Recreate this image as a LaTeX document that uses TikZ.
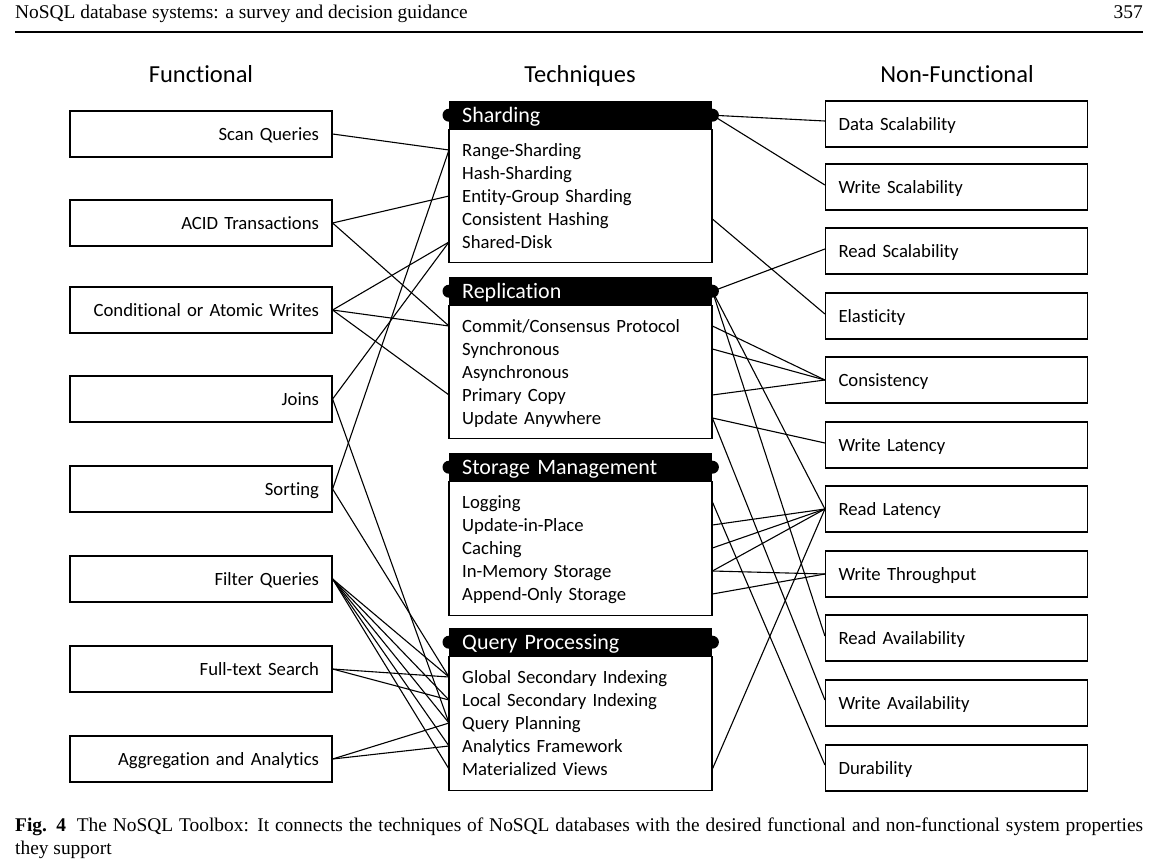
\documentclass[tikz,border=0pt]{standalone}
\usepackage{fontspec}
\setmainfont{Liberation Serif}
\newfontfamily\carlito[Ligatures={NoCommon}]{Carlito}
\begin{document}
\begin{tikzpicture}[x=1pt,y=-1pt,
  boxfont/.style={font=\carlito\fontsize{18.7}{23}\selectfont},
  fbox/.style={draw, line width=1.2pt, minimum width=262pt, minimum height=46pt, inner xsep=13pt, inner ysep=0pt, text width=236pt, text height=16pt, text depth=4pt, boxfont},
  lbox/.style={fbox, align=right},
  rbox/.style={fbox, align=left},
  item/.style={anchor=west, inner xsep=13pt, inner ysep=0pt, text width=237pt, align=left, text height=17pt, text depth=4pt, boxfont},
  head/.style={fill=black, text=white, anchor=north west, minimum height=28pt, inner xsep=13pt, inner ysep=0pt, text width=237pt, align=left, text height=19pt, text depth=5pt, font=\carlito\fontsize{22}{26}\selectfont},
  coltitle/.style={anchor=base, font=\carlito\fontsize{24.5}{28}\selectfont},
  serif/.style={inner sep=0pt, font=\fontsize{19.4}{23}\selectfont},
  conn/.style={line width=1.1pt},
  bodyline/.style={line width=1.2pt},
  bump/.style={fill=black}
]
\fill[white] (0,0) rectangle (1170,865);
\useasboundingbox (0,0) rectangle (1170,865);

% page header
\node[serif, anchor=base west] (ph) at (15,18) {NoSQL database systems: a survey and decision guidance};
\node[serif, anchor=base east] (pn) at (1143,18) {357};
\draw[line width=2.8pt] (15,32) -- (1143,32);

% column titles
\node[coltitle] (tf) at (201,82) {Functional};
\node[coltitle] (tt) at (580,82) {Techniques};
\node[coltitle] (tn) at (957,82) {Non-Functional};

% left boxes
\node[lbox] (L1) at (201,134) {Scan Queries};
\node[lbox] (L2) at (201,223) {ACID Transactions};
\node[lbox] (L3) at (201,310) {Conditional or Atomic Writes};
\node[lbox] (L4) at (201,399) {Joins};
\node[lbox] (L5) at (201,489) {Sorting};
\node[lbox] (L6) at (201,579) {Filter Queries};
\node[lbox] (L7) at (201,669) {Full-text Search};
\node[lbox] (L8) at (201,759) {Aggregation and Analytics};

% right boxes
\node[rbox] (R1) at (956.5,124) {Data Scalability};
\node[rbox] (R2) at (956.5,187) {Write Scalability};
\node[rbox] (R3) at (956.5,251) {Read Scalability};
\node[rbox] (R4) at (956.5,316) {Elasticity};
\node[rbox] (R5) at (956.5,380) {Consistency};
\node[rbox] (R6) at (956.5,445) {Write Latency};
\node[rbox] (R7) at (956.5,509) {Read Latency};
\node[rbox] (R8) at (956.5,574) {Write Throughput};
\node[rbox] (R9) at (956.5,638) {Read Availability};
\node[rbox] (R10) at (956.5,703) {Write Availability};
\node[rbox] (R11) at (956.5,768) {Durability};

% technique blocks
\node[head] (ha) at (449,101) {Sharding};
\draw[bodyline] (ha.south west) rectangle ++(263,133);
\fill[bump] (ha.west) circle[radius=6.5pt];
\fill[bump] (ha.east) circle[radius=6.5pt];
\node[item] (a1) at (449,150) {Range-Sharding};
\node[item] (a2) at (449,173) {Hash-Sharding};
\node[item] (a3) at (449,196) {Entity-Group Sharding};
\node[item] (a4) at (449,219) {Consistent Hashing};
\node[item] (a5) at (449,242) {Shared-Disk};

\node[head] (hb) at (449,277) {Replication};
\draw[bodyline] (hb.south west) rectangle ++(263,133);
\fill[bump] (hb.west) circle[radius=6.5pt];
\fill[bump] (hb.east) circle[radius=6.5pt];
\node[item] (b1) at (449,326) {Commit/Consensus Protocol};
\node[item] (b2) at (449,349) {Synchronous};
\node[item] (b3) at (449,372) {Asynchronous};
\node[item] (b4) at (449,395) {Primary Copy};
\node[item] (b5) at (449,418) {Update Anywhere};

\node[head] (hc) at (449,453) {Storage Management};
\draw[bodyline] (hc.south west) rectangle ++(263,134);
\fill[bump] (hc.west) circle[radius=6.5pt];
\fill[bump] (hc.east) circle[radius=6.5pt];
\node[item] (c1) at (449,502) {Logging};
\node[item] (c2) at (449,525) {Update-in-Place};
\node[item] (c3) at (449,548) {Caching};
\node[item] (c4) at (449,571) {In-Memory Storage};
\node[item] (c5) at (449,594) {Append-Only Storage};

\node[head] (hd) at (449,628) {Query Processing};
\draw[bodyline] (hd.south west) rectangle ++(263,134);
\fill[bump] (hd.west) circle[radius=6.5pt];
\fill[bump] (hd.east) circle[radius=6.5pt];
\node[item] (d1) at (449,677) {Global Secondary Indexing};
\node[item] (d2) at (449,700) {Local Secondary Indexing};
\node[item] (d3) at (449,723) {Query Planning};
\node[item] (d4) at (449,746) {Analytics Framework};
\node[item] (d5) at (449,769) {Materialized Views};

% left connectors
\draw[conn] (L1.east) -- (a1.west);
\draw[conn] (L2.east) -- (a3.west);
\draw[conn] (L2.east) -- (b1.west);
\draw[conn] (L3.east) -- (a5.west);
\draw[conn] (L3.east) -- (b1.west);
\draw[conn] (L3.east) -- (b4.west);
\draw[conn] (L4.east) -- (a5.west);
\draw[conn] (L4.east) -- (d3.west);
\draw[conn] (L5.east) -- (a1.west);
\draw[conn] (L5.east) -- (d1.west);
\draw[conn] (L6.east) -- (d1.west);
\draw[conn] (L6.east) -- (d2.west);
\draw[conn] (L6.east) -- (d3.west);
\draw[conn] (L6.east) -- (d4.west);
\draw[conn] (L6.east) -- (d5.west);
\draw[conn] (L7.east) -- (d1.west);
\draw[conn] (L7.east) -- (d2.west);
\draw[conn] (L8.east) -- (d3.west);
\draw[conn] (L8.east) -- (d4.west);

% right connectors
\draw[conn] (ha.east) -- ([yshift=3pt]R1.west);
\draw[conn] (ha.east) -- ([yshift=2pt]R2.west);
\draw[conn] (a4.east) -- ([yshift=2pt]R4.west);
\draw[conn] (hb.east) -- ([yshift=2pt]R3.west);
\draw[conn] (hb.east) -- (R7.west);
\draw[conn] (hb.east) -- ([yshift=2pt]R9.west);
\draw[conn] (b1.east) -- (R5.west);
\draw[conn] (b2.east) -- (R5.west);
\draw[conn] (b4.east) -- (R5.west);
\draw[conn] (b5.east) -- ([yshift=2pt]R6.west);
\draw[conn] (b5.east) -- ([yshift=3pt]R10.west);
\draw[conn] (c1.east) -- ([yshift=3pt]R11.west);
\draw[conn] (c2.east) -- (R7.west);
\draw[conn] (c3.east) -- (R7.west);
\draw[conn] (c4.east) -- (R7.west);
\draw[conn] (c4.east) -- (R8.west);
\draw[conn] (c5.east) -- (R8.west);
\draw[conn] (d5.east) -- (R7.west);

% caption
\node[serif, anchor=base west] (cap1) at (15,831) {\hbox to 1128pt{\textbf{Fig. 4}\hspace{0.55em}The NoSQL Toolbox: It connects the techniques of NoSQL databases with the desired functional and non-functional system properties}};
\node[serif, anchor=base west] (cap2) at (15,854) {they support};
\end{tikzpicture}
\end{document}
